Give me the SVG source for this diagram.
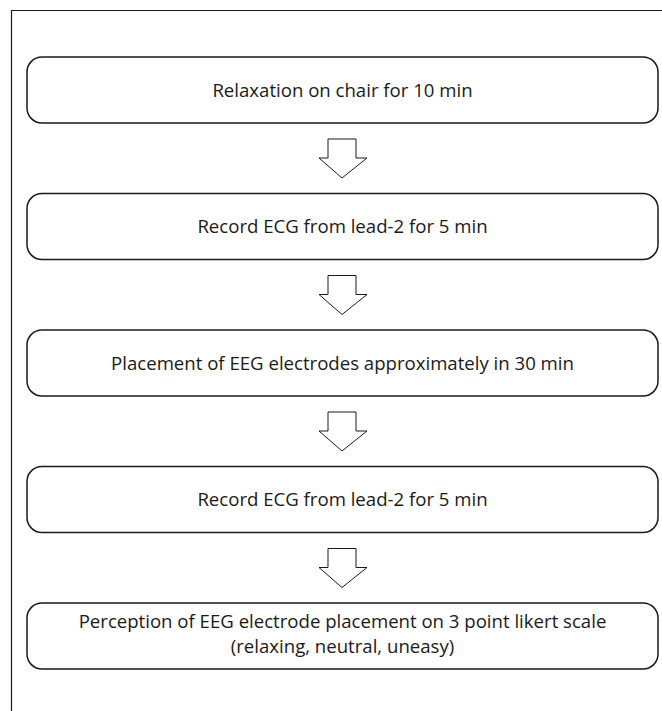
<svg xmlns="http://www.w3.org/2000/svg" width="662" height="711" viewBox="0 0 662 711">
<style>
.box{fill:#fff;stroke:#1a1a1a;stroke-width:1.5}
.arr{fill:#fff;stroke:#1a1a1a;stroke-width:1}
.t{font-family:"Open Sans","Noto Sans",sans-serif;font-size:18.6px;fill:#1a1a1a;text-anchor:middle}
</style>
<rect width="662" height="711" fill="#fff"/>
<path d="M11.5,711 V10.5 H662" fill="none" stroke="#1a1a1a" stroke-width="1.2"/>
<g id="connectors">
<polygon class="arr" points="328,139 356,139 356,158 367,158 342,178 319,158 328,158"/>
<polygon class="arr" points="328,275.5 356,275.5 356,294.5 367,294.5 342,314.5 319,294.5 328,294.5"/>
<polygon class="arr" points="328,412 356,412 356,431 367,431 342,451 319,431 328,431"/>
<polygon class="arr" points="328,548.5 356,548.5 356,567.5 367,567.5 342,587.5 319,567.5 328,567.5"/>
</g>
<g id="n1"><rect class="box" x="27" y="57" width="631" height="66" rx="15"/><text class="t" x="342.5" y="96.5">Relaxation on chair for 10 min</text></g>
<g id="n2"><rect class="box" x="27" y="193.5" width="631" height="66" rx="15"/><text class="t" x="342.5" y="233">Record ECG from lead-2 for 5 min</text></g>
<g id="n3"><rect class="box" x="27" y="330" width="631" height="66" rx="15"/><text class="t" x="342.5" y="369.5">Placement of EEG electrodes approximately in 30 min</text></g>
<g id="n4"><rect class="box" x="27" y="466.5" width="631" height="66" rx="15"/><text class="t" x="342.5" y="506">Record ECG from lead-2 for 5 min</text></g>
<g id="n5"><rect class="box" x="27" y="603" width="631" height="66" rx="15"/><text class="t" x="342.5" y="628">Perception of EEG electrode placement on 3 point likert scale</text><text class="t" x="342.5" y="653">(relaxing, neutral, uneasy)</text></g>
</svg>
